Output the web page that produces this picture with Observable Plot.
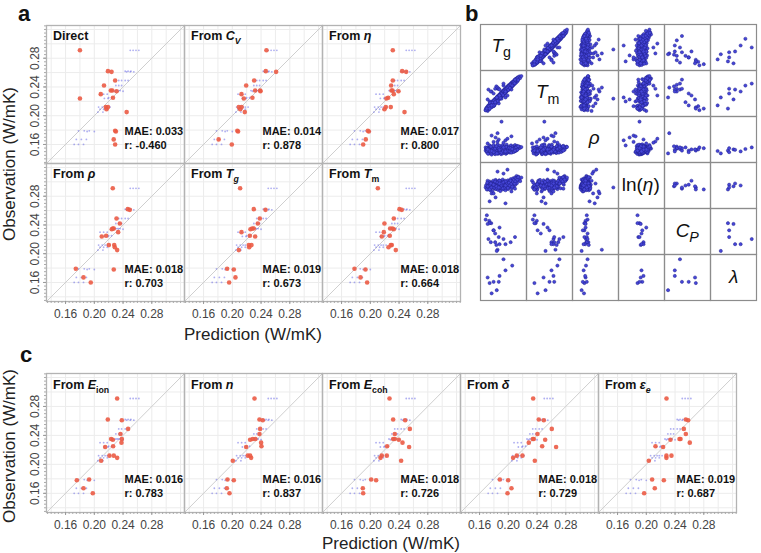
<!DOCTYPE html>
<html><head><meta charset="utf-8">
<script src="https://cdn.jsdelivr.net/npm/d3@7"></script>
<script src="https://cdn.jsdelivr.net/npm/@observablehq/plot@0.6"></script>
<style>
body{margin:0;background:#fff;}
#root{position:relative;width:761px;height:553px;overflow:hidden;background:#fff;font-family:"Liberation Sans",Arial,sans-serif;}
#overlay{position:absolute;left:0;top:0;pointer-events:none;}
</style></head><body><div id="root"></div>
<script>
// ---------- DATA: observed thermal conductivity (W/mK), shared by all parity panels ----------
const obsY = [0.291,0.262,0.261,0.249,0.242,0.235,0.235,0.234,0.230,0.225,0.224,0.212,0.212,0.209,0.205,0.179,0.178,0.167,0.160];
// predictions (red points) per panel, aligned with obsY
const predDirect = [0.180,0.219,0.224,0.229,0.2135,0.223,0.225,0.231,0.209,0.226,0.180,0.216,0.219,0.217,0.245,0.229,0.230,0.227,0.229];
const predCv     = [0.2475,0.2466,0.261,0.2304,0.2193,0.2318,0.2388,0.2392,0.2128,0.228,0.216,0.209,0.213,0.211,0.2174,0.207,0.208,0.181,0.1993];
const predEta    = [0.2313,0.2443,0.2499,0.2313,0.2290,0.2309,0.2295,0.2392,0.2327,0.2249,0.2225,0.2216,0.2285,0.2197,0.2476,0.1966,0.1979,0.1937,0.1901];
const predRho    = [0.2257,0.2466,0.2494,0.2309,0.2355,0.2257,0.2271,0.2243,0.2332,0.2165,0.2104,0.2202,0.2277,0.2285,0.2318,0.1743,0.2271,0.185,0.1951];
const predTg     = [0.2109,0.2299,0.2462,0.2383,0.2355,0.2276,0.2299,0.2253,0.2128,0.2244,0.2318,0.2230,0.2267,0.2235,0.2091,0.1928,0.2021,0.2044,0.1956];
const predTm     = [0.2105,0.2406,0.2438,0.2327,0.2197,0.2276,0.2309,0.2327,0.2188,0.2271,0.216,0.2299,0.2285,0.2253,0.2355,0.178,0.1933,0.1864,0.1956];
const predEion   = [0.2318,0.2188,0.2383,0.247,0.2364,0.2383,0.2234,0.2258,0.2378,0.2262,0.2151,0.2211,0.2271,0.2318,0.2095,0.1928,0.1757,0.185,0.1979];
const predN      = [0.2309,0.2378,0.2424,0.2387,0.2378,0.2285,0.2322,0.2248,0.2401,0.2406,0.2193,0.2216,0.2248,0.2262,0.2007,0.1933,0.2021,0.1924,0.1961];
const predEcoh   = [0.2267,0.2318,0.2485,0.255,0.2341,0.2318,0.2341,0.2397,0.2448,0.2234,0.254,0.216,0.223,0.2142,0.2429,0.2012,0.2081,0.1896,0.1901];
const predDelta  = [0.2346,0.2424,0.2494,0.2605,0.2406,0.2355,0.2341,0.2513,0.2285,0.2471,0.2665,0.2118,0.2197,0.2067,0.2369,0.1882,0.1998,0.2044,0.1989];
const predEps    = [0.2281,0.255,0.2582,0.2522,0.255,0.2476,0.2462,0.2336,0.2605,0.2128,0.2234,0.228,0.235,0.228,0.2035,0.2081,0.2244,0.2118,0.1970];
// faint blue points (other predictions), x values per observation
const blueX = [[0.250,0.254,0.258,0.262],[0.243,0.247,0.251],[0.245,0.250,0.255],[0.234,0.238,0.243,0.247],[0.230,0.234,0.238],[0.226,0.230,0.234],[0.232,0.236],[0.228,0.240],[0.208,0.213,0.218],[0.220,0.224],[0.214,0.219],[0.206,0.211,0.215],[0.218,0.222],[0.208,0.213,0.218],[0.205,0.212],[0.178,0.186,0.193],[0.190,0.200],[0.175,0.182,0.189],[0.172,0.178,0.185]];
const maeVals = ["0.033","0.014","0.017","0.018","0.019","0.018","0.016","0.016","0.018","0.018","0.019"];
const rVals   = ["-0.460","0.878","0.800","0.703","0.673","0.664","0.783","0.837","0.726","0.729","0.687"];
const majorTicks = [0.16,0.20,0.24,0.28];
const axisDomain = [0.1335,0.3255];

// ---------- DATA: scatter matrix (normalised 0-1): Tg, Tm, rho, ln(eta), Cp, lambda ----------
const pairVars = ["Tg","Tm","rho","lnEta","Cp","lambda"];
const denseRows = [
[0.05,0.08,0.22,0.45],[0.08,0.15,0.18,0.52],[0.10,0.12,0.30,0.40],[0.12,0.20,0.25,0.55],[0.14,0.10,0.15,0.48],
[0.15,0.22,0.20,0.60],[0.17,0.18,0.33,0.38],[0.18,0.28,0.22,0.50],[0.20,0.16,0.12,0.44],[0.21,0.25,0.28,0.58],
[0.22,0.30,0.18,0.35],[0.24,0.22,0.24,0.62],[0.25,0.33,0.36,0.47],[0.26,0.28,0.20,0.53],[0.27,0.20,0.15,0.42],
[0.28,0.36,0.27,0.57],[0.29,0.31,0.13,0.49],[0.30,0.26,0.22,0.64],[0.31,0.38,0.31,0.41],[0.32,0.34,0.17,0.55],
[0.33,0.29,0.25,0.46],[0.34,0.42,0.21,0.60],[0.35,0.37,0.38,0.52],[0.36,0.32,0.14,0.39],[0.37,0.45,0.26,0.56],
[0.38,0.40,0.19,0.48],[0.39,0.35,0.29,0.63],[0.40,0.47,0.23,0.44],[0.40,0.42,0.16,0.51],[0.41,0.38,0.34,0.58],
[0.42,0.50,0.20,0.36],[0.43,0.44,0.27,0.54],[0.44,0.40,0.13,0.47],[0.44,0.52,0.24,0.61],[0.45,0.47,0.31,0.43],
[0.46,0.43,0.18,0.57],[0.47,0.55,0.22,0.50],[0.48,0.49,0.36,0.40],[0.48,0.45,0.15,0.65],[0.49,0.57,0.26,0.53],
[0.50,0.52,0.20,0.46],[0.51,0.48,0.29,0.59],[0.52,0.60,0.17,0.42],[0.52,0.54,0.23,0.55],[0.53,0.50,0.33,0.49],
[0.54,0.62,0.19,0.62],[0.55,0.57,0.26,0.38],[0.56,0.53,0.14,0.52],[0.57,0.64,0.28,0.47],[0.58,0.60,0.21,0.58],
[0.58,0.56,0.37,0.44],[0.59,0.67,0.16,0.54],[0.60,0.62,0.24,0.50],[0.61,0.58,0.30,0.63],[0.62,0.70,0.19,0.41],
[0.63,0.65,0.27,0.56],[0.64,0.61,0.22,0.48],[0.65,0.72,0.32,0.60],[0.66,0.68,0.17,0.45],[0.67,0.63,0.25,0.53],
[0.68,0.75,0.20,0.66],[0.69,0.70,0.35,0.49],[0.70,0.66,0.23,0.57],[0.71,0.78,0.28,0.43],[0.72,0.73,0.18,0.61],
[0.73,0.69,0.26,0.52],[0.74,0.80,0.21,0.68],[0.75,0.76,0.33,0.55],[0.76,0.72,0.24,0.47],[0.77,0.83,0.29,0.63],
[0.78,0.79,0.20,0.58],[0.79,0.75,0.36,0.70],[0.80,0.86,0.25,0.52],[0.81,0.82,0.31,0.66],[0.82,0.78,0.22,0.60],
[0.83,0.88,0.27,0.74],[0.84,0.85,0.34,0.56],[0.85,0.81,0.26,0.69],[0.86,0.91,0.30,0.63],[0.88,0.87,0.28,0.72],
[0.90,0.93,0.32,0.66],[0.92,0.89,0.29,0.61],[0.95,0.94,0.31,0.70],
[0.20,0.55,0.60,0.30],[0.35,0.62,0.45,0.85],[0.30,0.35,0.55,0.20],[0.55,0.40,0.48,0.05],[0.45,0.37,0.95,0.45],
[0.60,0.45,0.52,0.90],[0.10,0.06,0.40,0.62],[0.25,0.18,0.44,0.30],[0.70,0.60,0.58,0.35],[0.15,0.30,0.35,0.10],
[0.50,0.70,0.42,0.80],[0.38,0.25,0.50,0.55],
[0.06,0.12,0.26,0.50],[0.09,0.09,0.20,0.57],[0.11,0.18,0.14,0.46],[0.13,0.14,0.23,0.43],[0.16,0.26,0.29,0.51],
[0.19,0.21,0.17,0.56],[0.23,0.27,0.21,0.49],[0.23,0.19,0.26,0.53],[0.27,0.32,0.18,0.45],[0.29,0.24,0.24,0.60],
[0.31,0.30,0.20,0.50],[0.33,0.39,0.28,0.44],[0.35,0.31,0.22,0.57],[0.36,0.41,0.16,0.49],[0.39,0.44,0.24,0.53],
[0.41,0.46,0.19,0.45],[0.42,0.39,0.28,0.59],[0.45,0.51,0.17,0.50],[0.46,0.49,0.25,0.55],[0.49,0.46,0.21,0.43],
[0.50,0.56,0.30,0.58],[0.53,0.58,0.24,0.51],[0.54,0.51,0.18,0.45],[0.56,0.61,0.22,0.60],[0.57,0.55,0.31,0.48],
[0.59,0.63,0.19,0.55],[0.61,0.66,0.26,0.44],[0.62,0.59,0.21,0.52],[0.64,0.69,0.29,0.57],[0.66,0.64,0.20,0.50],
[0.68,0.72,0.25,0.62],[0.70,0.74,0.17,0.54],[0.72,0.70,0.30,0.47],[0.74,0.77,0.23,0.59],[0.76,0.80,0.19,0.64],
[0.78,0.76,0.27,0.55],[0.80,0.83,0.22,0.61],[0.82,0.86,0.30,0.68],[0.85,0.88,0.24,0.65],[0.87,0.84,0.33,0.71]
];
const cpRows = [
[0.05,0.08,0.30,null,0.80,null],[0.08,0.12,0.28,0.40,0.91,null],[0.14,0.18,0.25,null,0.77,null],[0.19,0.15,0.24,0.45,0.71,null],
[0.25,0.20,0.22,null,0.53,null],[0.29,0.28,0.30,0.50,0.45,null],[0.12,0.60,0.26,null,0.31,null],[0.18,0.55,0.32,0.55,0.23,null],
[0.29,0.62,0.27,null,0.23,null],[0.32,0.68,0.33,0.48,0.16,null],[0.68,0.72,0.28,null,0.23,null],[0.79,0.85,0.22,0.42,0.36,null],
[0.35,0.65,0.66,null,0.04,null],[0.40,0.45,0.25,0.62,0.60,null]
];
const lambdaRows = [
[0.15,0.12,0.22,0.40,0.71,0.36],[0.10,0.35,0.25,0.48,0.69,0.50],[0.25,0.50,0.18,0.52,0.53,0.39],[0.38,0.62,0.28,0.45,0.36,0.39],
[0.40,0.60,0.24,0.55,0.18,0.54],[0.55,0.55,0.20,0.50,0.18,0.68],[0.50,0.75,0.30,null,0.31,0.96],[0.33,0.40,0.15,null,0.01,0.18],
[0.72,0.70,0.26,null,null,0.80],[0.20,0.20,0.21,null,null,0.10]
];

// ---------- LAYOUT ----------
const root = document.getElementById("root");
const ML = 26, MR = 2, MT = 2, MB = 24, PW = 138;
const minorTicks = d3.range(0.135, 0.326, 0.005);
const gridTicks = d3.range(0.14, 0.33, 0.02);
const FONT = "Liberation Sans, Arial, sans-serif";

function place(svg, left, top) {
  svg.style.position = "absolute";
  svg.style.left = left + "px";
  svg.style.top = top + "px";
  svg.style.background = "transparent";
  svg.style.overflow = "visible";
  svg.style.maxWidth = "none";
  root.appendChild(svg);
}

function scatterPanel(preds, k, left, top, h, showX, showY) {
  const red = obsY.map((y, i) => ({x: preds[i], y}));
  const blue = blueX.flatMap((xs, i) => xs.map(x => ({x, y: obsY[i]})));
  const marks = [
    Plot.gridX(gridTicks, {stroke: "#ececec", strokeOpacity: 1}),
    Plot.gridY(gridTicks, {stroke: "#ececec", strokeOpacity: 1}),
    Plot.line(axisDomain.map(d => [d, d]), {stroke: "#cfcfcf", strokeWidth: 1}),
    Plot.dot(blue, {x: "x", y: "y", r: 0.9, fill: "#6e6ee6", fillOpacity: 0.55}),
    Plot.dot(red, {x: "x", y: "y", r: 2.3, fill: "#eb5b45", fillOpacity: 0.9}),
    Plot.frame({stroke: "#b3b3b3", strokeWidth: 1.3}),
    Plot.text([`MAE: ${maeVals[k]}`], {text: d => d, frameAnchor: "top-left", dx: 78, dy: 109, textAnchor: "start", lineAnchor: "bottom", fontSize: 11, fontWeight: "bold", fill: "#111"}),
    Plot.text([`r: ${rVals[k]}`], {text: d => d, frameAnchor: "top-left", dx: 78, dy: 123, textAnchor: "start", lineAnchor: "bottom", fontSize: 11, fontWeight: "bold", fill: "#111"})
  ];
  if (showX) marks.push(
    Plot.axisX(minorTicks, {tickSize: 2, fill: "none", stroke: "#aaa", label: null}),
    Plot.axisX(majorTicks, {tickSize: 3, tickPadding: 5, tickFormat: ".2f", fontSize: 12, fill: "#444", stroke: "#999", label: null})
  );
  if (showY) marks.push(
    Plot.axisY(minorTicks, {tickSize: 2, fill: "none", stroke: "#aaa", label: null}),
    Plot.axisY(majorTicks, {tickSize: 3, tickPadding: 5, tickRotate: -90, tickFormat: ".2f", fontSize: 12, fill: "#444", stroke: "#999", label: null})
  );
  const svg = Plot.plot({
    width: ML + PW + MR, height: MT + h + MB,
    marginLeft: ML, marginRight: MR, marginTop: MT, marginBottom: MB,
    x: {domain: axisDomain, ...(showX ? {} : {axis: null})},
    y: {domain: axisDomain, ...(showY ? {} : {axis: null})},
    style: {fontFamily: FONT, background: "transparent", overflow: "visible"},
    marks
  });
  place(svg, left - ML, top - MT);
}

const aLefts = [46, 184, 322], aTops = [25, 163];
const aPreds = [predDirect, predCv, predEta, predRho, predTg, predTm];
aPreds.forEach((p, k) => {
  const c = k % 3, rr = Math.floor(k / 3);
  scatterPanel(p, k, aLefts[c], aTops[rr], 138, rr === 1, c === 0);
});
const cLefts = [46, 184, 322, 460, 598], cTop = 373;
const cPreds = [predEion, predN, predEcoh, predDelta, predEps];
cPreds.forEach((p, k) => scatterPanel(p, 6 + k, cLefts[k], cTop, 139, true, k === 0));

// ---------- panel b: scatter matrix ----------
const pairRows = [...denseRows.map(r => [...r, null, null]), ...cpRows, ...lambdaRows];
const pairCells = [];
for (let i = 0; i < 6; i++) for (let j = 0; j < 6; j++) if (i !== j)
  for (const row of pairRows) if (row[i] != null && row[j] != null) pairCells.push({col: j, row: i, x: row[j], y: row[i]});
const diagCells = d3.range(6).map(k => ({col: k, row: k}));
const bPlot = Plot.plot({
  width: 287, height: 285, margin: 4,
  fx: {domain: d3.range(6), padding: 0, axis: null},
  fy: {domain: d3.range(6), padding: 0, axis: null},
  x: {domain: [-0.08, 1.08], axis: null},
  y: {domain: [-0.08, 1.08], axis: null},
  style: {fontFamily: FONT, background: "transparent"},
  marks: [
    Plot.frame({stroke: "#8c8c8c", strokeWidth: 1.2}),
    Plot.dot(pairCells, {fx: "col", fy: "row", x: "x", y: "y", r: 1.6, fill: "#4646d8", stroke: "#20208f", strokeWidth: 0.5}),
    Plot.text(diagCells, {fx: "col", fy: "row", text: () => "", frameAnchor: "middle"})
  ]
});
place(bPlot, 474, 19);

// ---------- text overlay ----------
const ov = d3.select(root).append("svg").attr("id", "overlay").attr("width", 761).attr("height", 553)
  .style("font-family", FONT);
function rich(x, y, parts, size, opts = {}) {
  const t = ov.append("text").attr("x", x).attr("y", y).attr("font-size", size).attr("fill", opts.fill || "#111");
  if (opts.bold) t.attr("font-weight", "bold");
  if (opts.anchor) t.attr("text-anchor", opts.anchor);
  parts.forEach(p => {
    const s = t.append("tspan").text(p.t);
    if (p.it) s.attr("font-style", "italic");
    if (p.sub) s.attr("font-size", size * (opts.subScale || 0.7)).attr("dy", size * 0.28);
  });
  return t;
}
[["a", 18, 21], ["b", 465, 21], ["c", 20, 362]].forEach(([l, x, y]) =>
  ov.append("text").attr("x", x).attr("y", y).attr("font-size", 22).attr("font-weight", "bold").attr("fill", "#111").text(l));

const F = "From ";
const aTitles = [
  [{t: "Direct"}],
  [{t: F}, {t: "C", it: 1}, {t: "V", it: 1, sub: 1}],
  [{t: F}, {t: "η", it: 1}],
  [{t: F}, {t: "ρ", it: 1}],
  [{t: F}, {t: "T", it: 1}, {t: "g", it: 1, sub: 1}],
  [{t: F}, {t: "T", it: 1}, {t: "m", sub: 1}]
];
aTitles.forEach((p, k) => rich(aLefts[k % 3] + 7, aTops[Math.floor(k / 3)] + 15, p, 12.5, {bold: true}));
const cTitles = [
  [{t: F}, {t: "E", it: 1}, {t: "ion", sub: 1}],
  [{t: F}, {t: "n", it: 1}],
  [{t: F}, {t: "E", it: 1}, {t: "coh", sub: 1}],
  [{t: F}, {t: "δ", it: 1}],
  [{t: F}, {t: "ε", it: 1}, {t: "e", it: 1, sub: 1}]
];
cTitles.forEach((p, k) => rich(cLefts[k] + 7, cTop + 16, p, 12.5, {bold: true}));

// axis titles
ov.append("text").attr("x", 253).attr("y", 340).attr("text-anchor", "middle").attr("font-size", 17).attr("fill", "#222").text("Prediction (W/mK)");
ov.append("text").attr("x", 391).attr("y", 549).attr("text-anchor", "middle").attr("font-size", 17).attr("fill", "#222").text("Prediction (W/mK)");
ov.append("text").attr("transform", "translate(15,164) rotate(-90)").attr("text-anchor", "middle").attr("font-size", 17).attr("fill", "#222").text("Observation (W/mK)");
ov.append("text").attr("transform", "translate(15,446) rotate(-90)").attr("text-anchor", "middle").attr("font-size", 17).attr("fill", "#222").text("Observation (W/mK)");

// diagonal labels of scatter matrix
const cellW = 279 / 6, cellH = 277 / 6;
const diagLabels = [
  [{t: "T", it: 1}, {t: "g", sub: 1}],
  [{t: "T", it: 1}, {t: "m", sub: 1}],
  [{t: "ρ", it: 1}],
  [{t: "ln("}, {t: "η", it: 1}, {t: ")"}],
  [{t: "C", it: 1}, {t: "P", it: 1, sub: 1}],
  [{t: "λ", it: 1}]
];
diagLabels.forEach((p, k) => rich(478 + (k + 0.5) * cellW, 23 + (k + 0.5) * cellH + 6, p, 19, {anchor: "middle", subScale: 0.75}));
</script></body></html>
